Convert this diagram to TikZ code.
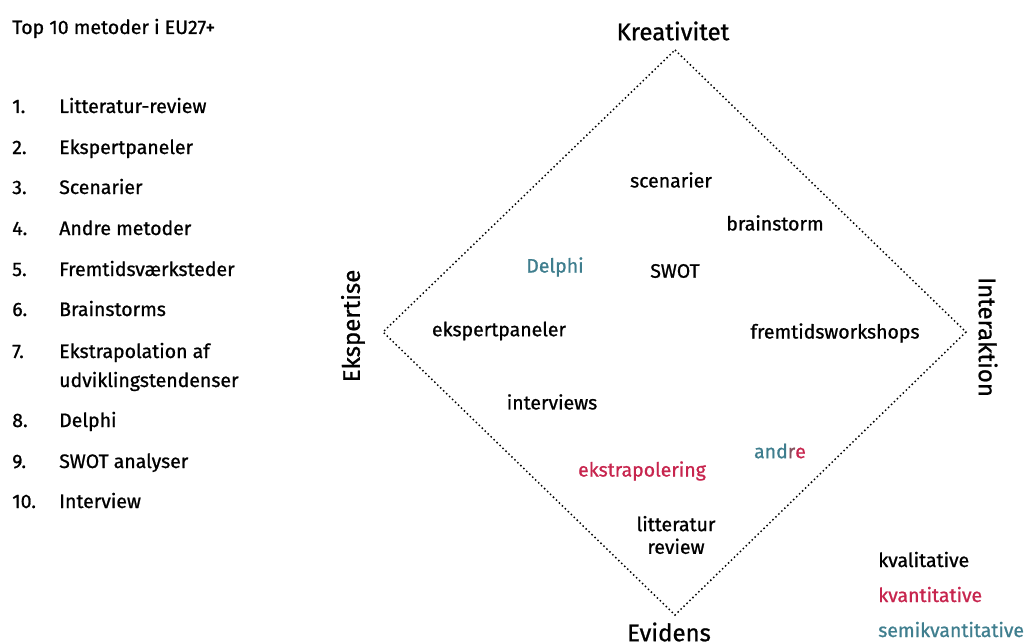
\documentclass[tikz,border=0pt]{standalone}
\usepackage{fontspec}
\setmainfont{Fira Sans}[FakeBold=0.9]
\definecolor{kvant}{HTML}{C7254E}
\definecolor{semi}{HTML}{3F7E8E}
\definecolor{mix}{HTML}{83515E}
\begin{document}
\begin{tikzpicture}[x=0.75pt,y=-0.75pt,font=\fontsize{14.6}{17}\selectfont,
  method/.style={anchor=center,inner sep=0pt},
  axis/.style={font=\fontsize{18}{20}\selectfont,inner sep=0pt},
  item/.style={anchor=base west,inner sep=0pt}]
\useasboundingbox (0,0) rectangle (1025,642);
% diamond
\coordinate (top) at (675,50);
\coordinate (left) at (383,332);
\coordinate (right) at (966,332);
\coordinate (bottom) at (675,615);
\draw[dotted,line width=1.1pt] (top) -- (right) -- (bottom) -- (left) -- cycle;
\node[axis] (kreativitet) at (673,31) {Kreativitet};
\node[axis] (evidens) at (669,632) {Evidens};
\node[axis,rotate=90] (ekspertise) at (353,326) {Ekspertise};
\node[axis,rotate=-90] (interaktion) at (988,337) {Interaktion};
% methods
\node[method] (scenarier) at (671,180) {scenarier};
\node[method] (brainstorm) at (775,223) {brainstorm};
\node[method,text=semi] (delphi) at (555,267) {Delphi};
\node[method] (swot) at (675,271) {SWOT};
\node[method] (ekspertpaneler) at (499,331) {ekspertpaneler};
\node[method] (workshops) at (835,333) {fremtidsworkshops};
\node[method] (interviews) at (552,402) {interviews};
\node[method] (andre) at (780,451) {\textcolor{semi}{and}\textcolor{mix}{r}\textcolor{kvant}{e}};
\node[method,text=kvant] (ekstrapolering) at (642,471) {ekstrapolering};
\node[method,align=center] (litteratur) at (676,535) {litteratur\\review};
% legend
\node[item] (kval) at (878,567) {kvalitative};
\node[item,text=kvant] (kvan) at (878,602) {kvantitative};
\node[item,text=semi] (semik) at (878,637) {semikvantitative};
% list
\node[item] (title) at (12,34) {Top 10 metoder i EU27+};
\foreach \n/\y/\t in {1/113/Litteratur-review,2/154/Ekspertpaneler,3/194/Scenarier,
  4/235/Andre metoder,5/276/Fremtidsværksteder,6/316/Brainstorms,
  7/358/Ekstrapolation af,8/427/Delphi,9/468/SWOT analyser,10/508/Interview}
{
  \node[item] (num\n) at (12,\y) {\n.};
  \node[item] (txt\n) at (59,\y) {\t};
}
\node[item] (txt7b) at (59,387) {udviklingstendenser};
\end{tikzpicture}
\end{document}
